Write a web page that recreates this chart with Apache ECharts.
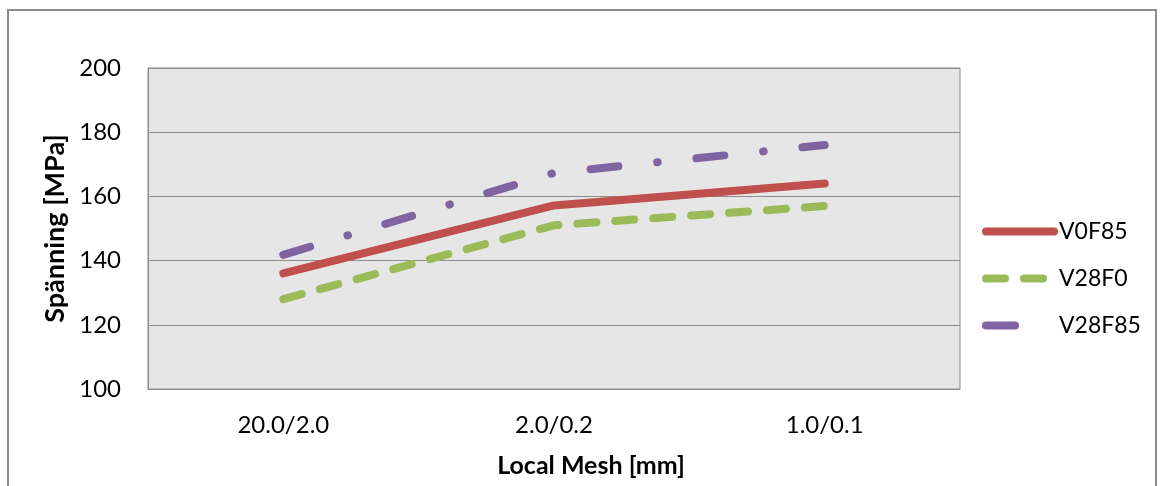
<!DOCTYPE html>
<html>
<head>
<meta charset="utf-8">
<script src="https://cdn.jsdelivr.net/npm/echarts@6/dist/echarts.min.js"></script>
<style>
html,body{margin:0;padding:0;background:#fff;}
#frame{position:absolute;left:7px;top:9px;width:1150px;height:490px;border:2px solid #8c8c8c;box-sizing:border-box;}
#c{position:absolute;left:0;top:0;width:1160px;height:486px;}
</style>
</head>
<body>
<div id="frame"></div>
<div id="c"></div>
<script>
const categories = ['20.0/2.0', '2.0/0.2', '1.0/0.1'];
const seriesNames = ['V0F85', 'V28F0', 'V28F85'];
const v0f85 = [136, 157.2, 164];
const v28f0 = [128, 151, 157];
const v28f85 = [141.8, 167.3, 176];
const yTicks = [100, 120, 140, 160, 180, 200];

const FONT = 'Lato, "Open Sans", sans-serif';
const chart = echarts.init(document.getElementById('c'));
const common = { type: 'line', symbol: 'none', smooth: false, silent: true, animation: false };
const colors = ['#c0504d', '#9bbb59', '#8064a2'];
chart.setOption({
  animation: false,
  grid: { left: 148, top: 68, width: 812, height: 321, show: true, backgroundColor: '#e6e6e6', borderColor: '#8c8c8c', borderWidth: 1 },
  legend: {
    orient: 'vertical', left: 977, top: 215, itemGap: 24, itemWidth: 68, itemHeight: 14,
    itemStyle: { opacity: 0 },
    lineStyle: { width: 8, cap: 'round' },
    textStyle: { fontFamily: FONT, fontSize: 23, color: '#000' },
    data: [
      { name: seriesNames[0] },
      { name: seriesNames[1] },
      { name: seriesNames[2], lineStyle: { type: [29, 200], width: 8, cap: 'round' } }
    ],
    selectedMode: false
  },
  xAxis: {
    type: 'category', data: categories, boundaryGap: true,
    axisLine: { show: true, lineStyle: { color: '#8c8c8c', width: 1 } },
    axisTick: { show: false },
    axisLabel: { fontFamily: FONT, fontSize: 24, color: '#000', margin: 24 },
    name: 'Local Mesh [mm]', nameLocation: 'middle', nameGap: 64,
    nameTextStyle: { fontFamily: FONT, fontSize: 25, fontWeight: 'bold', color: '#000', padding: [0, 0, 0, 74] }
  },
  yAxis: {
    type: 'value', min: yTicks[0], max: yTicks[yTicks.length-1], interval: 20,
    axisLine: { show: true, lineStyle: { color: '#8c8c8c', width: 1 } },
    axisTick: { show: false },
    splitLine: { show: true, lineStyle: { color: '#8c8c8c', width: 1 } },
    axisLabel: { fontFamily: FONT, fontSize: 24, color: '#000', margin: 27 },
    name: 'Spänning [MPa]', nameLocation: 'middle', nameGap: 75, nameRotate: 90,
    nameTextStyle: { fontFamily: FONT, fontSize: 27, fontWeight: 'bold', color: '#000' }
  },
  series: [
    Object.assign({}, common, { name: seriesNames[0], data: v0f85, itemStyle: { color: colors[0] },
      lineStyle: { color: colors[0], width: 8, cap: 'round', join: 'round' }, z: 3 }),
    Object.assign({}, common, { name: seriesNames[1], data: v28f0, itemStyle: { color: colors[1] },
      lineStyle: { color: colors[1], width: 8, type: [19, 19], cap: 'round', join: 'round' }, z: 2 }),
    Object.assign({}, common, { name: seriesNames[2], data: v28f85, itemStyle: { color: colors[2] },
      lineStyle: { color: colors[2], width: 8, type: [28, 39, 0.5, 39], cap: 'round', join: 'round' }, z: 1 })
  ]
});
</script>
</body>
</html>
